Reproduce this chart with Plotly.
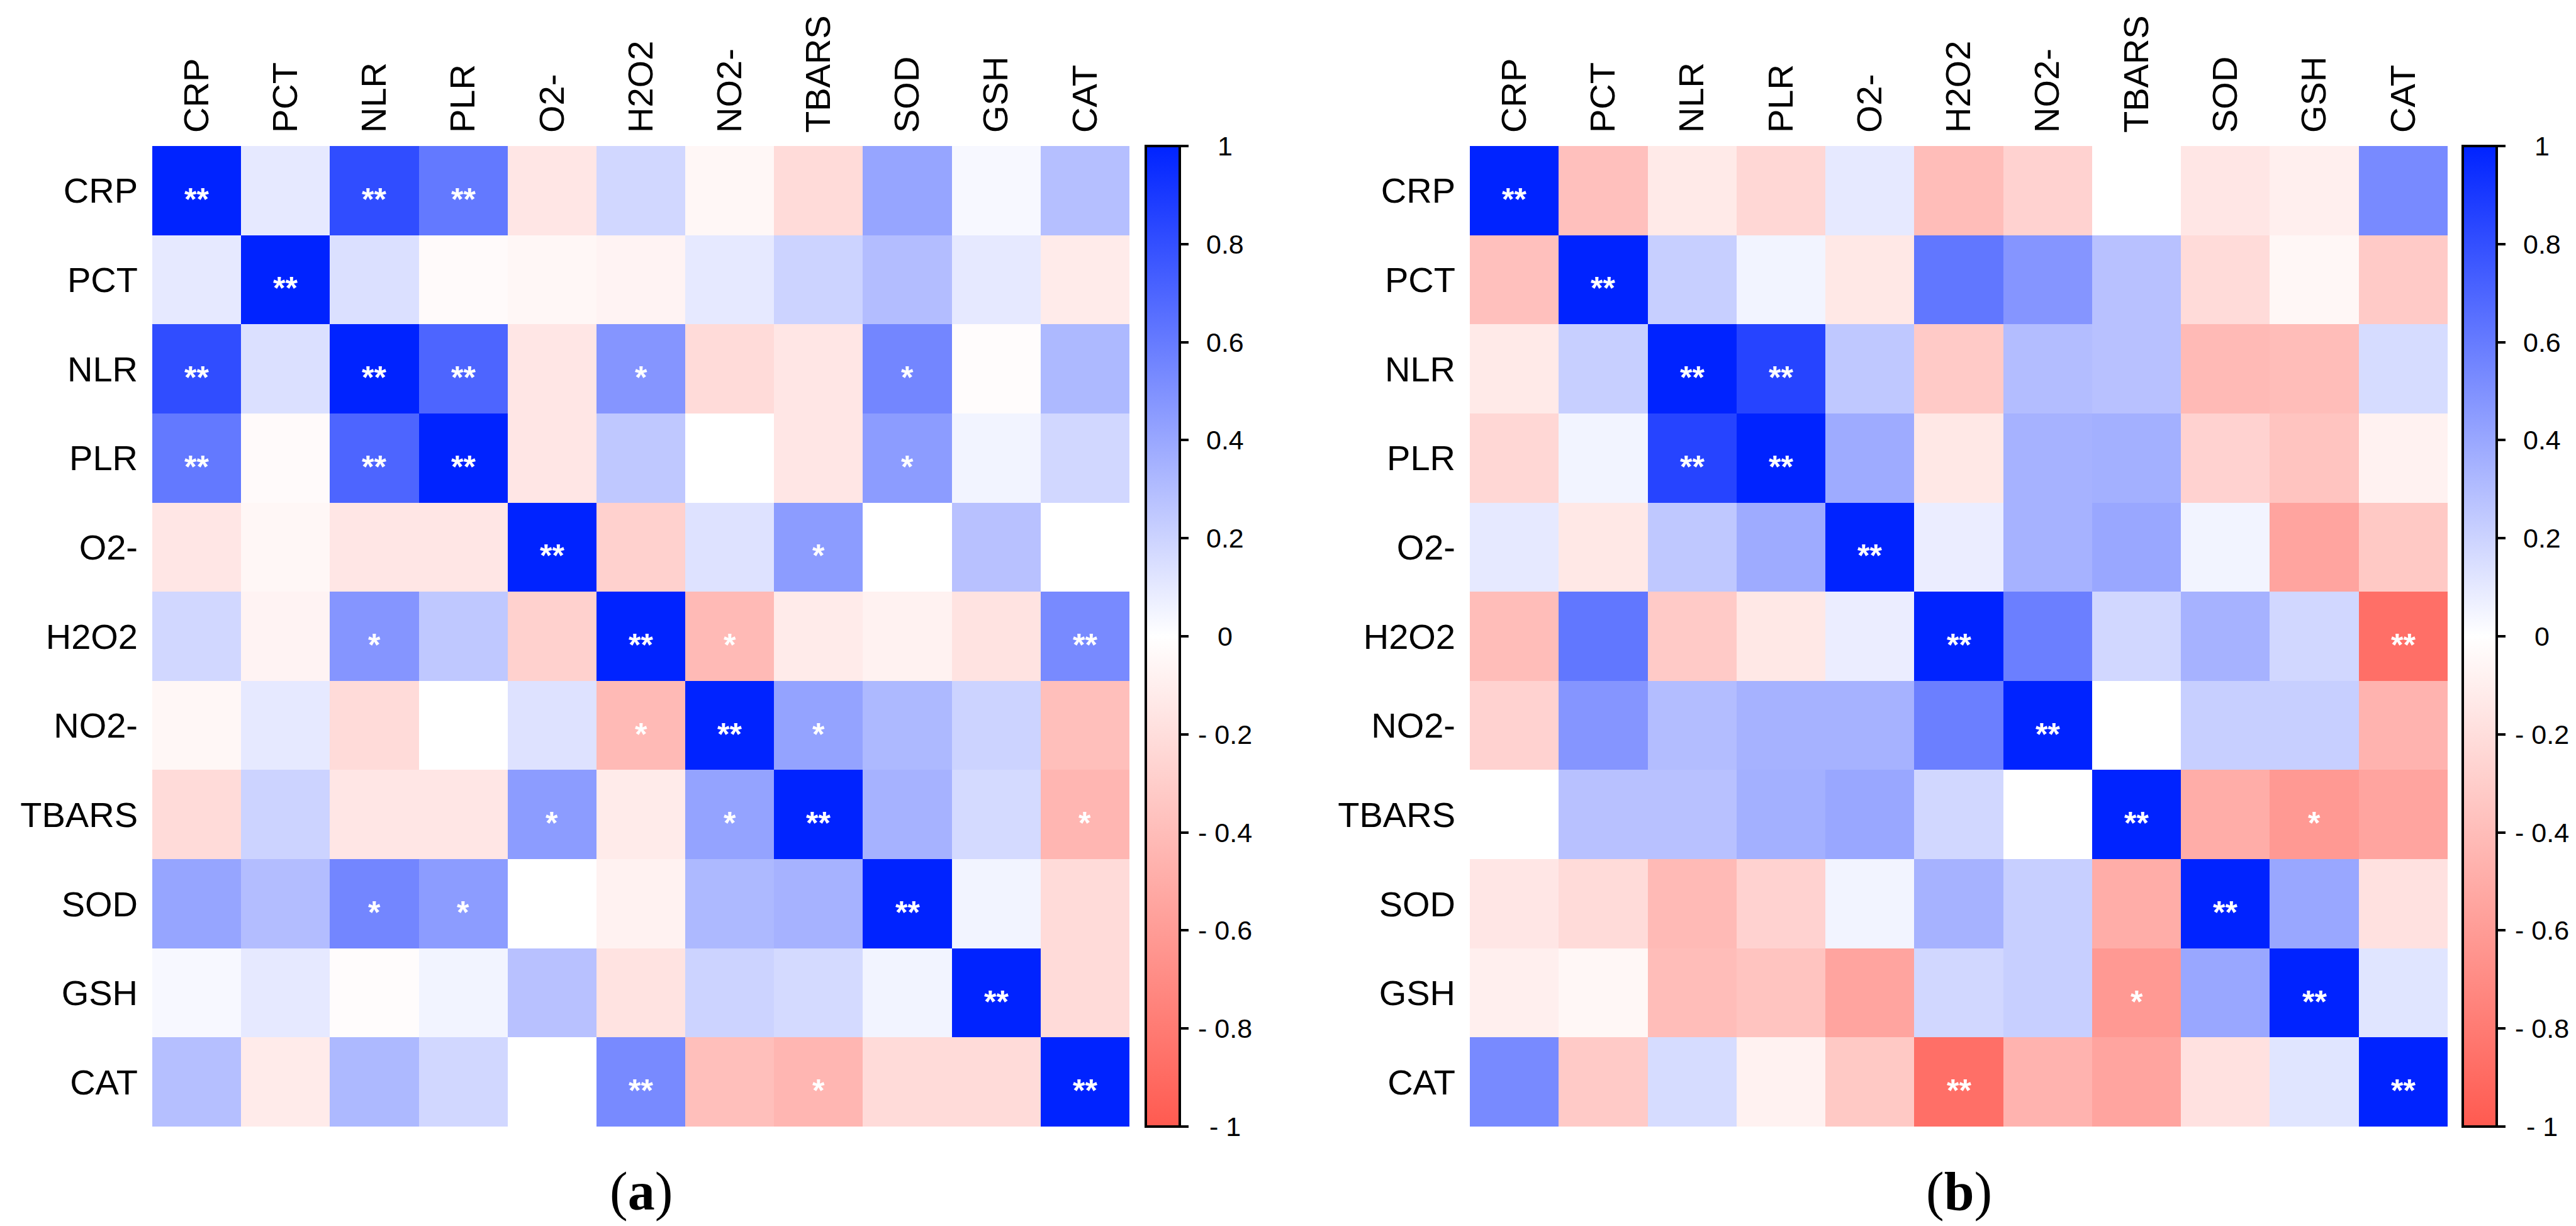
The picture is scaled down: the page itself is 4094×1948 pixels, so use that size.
import plotly.graph_objects as go

W, H = 4094, 1948

labels = ["CRP", "PCT", "NLR", "PLR", "O2-", "H2O2", "NO2-", "TBARS", "SOD", "GSH", "CAT"]

corr_a = [
    [1.00, 0.10, 0.81, 0.61, -0.15, 0.18, -0.05, -0.22, 0.41, 0.03, 0.29],
    [0.10, 1.00, 0.14, -0.03, -0.05, -0.07, 0.10, 0.20, 0.30, 0.10, -0.12],
    [0.81, 0.14, 1.00, 0.70, -0.15, 0.48, -0.22, -0.15, 0.55, -0.02, 0.32],
    [0.61, -0.03, 0.70, 1.00, -0.15, 0.25, 0.00, -0.15, 0.45, 0.05, 0.18],
    [-0.15, -0.05, -0.15, -0.15, 1.00, -0.28, 0.13, 0.45, 0.00, 0.28, 0.00],
    [0.18, -0.07, 0.48, 0.25, -0.28, 1.00, -0.42, -0.12, -0.08, -0.17, 0.53],
    [-0.05, 0.10, -0.22, 0.00, 0.13, -0.42, 1.00, 0.42, 0.32, 0.20, -0.39],
    [-0.22, 0.20, -0.15, -0.15, 0.45, -0.12, 0.42, 1.00, 0.35, 0.17, -0.44],
    [0.41, 0.30, 0.55, 0.45, 0.00, -0.08, 0.32, 0.35, 1.00, 0.05, -0.22],
    [0.03, 0.10, -0.02, 0.05, 0.28, -0.17, 0.20, 0.17, 0.05, 1.00, -0.22],
    [0.29, -0.12, 0.32, 0.18, 0.00, 0.53, -0.39, -0.44, -0.22, -0.22, 1.00],
]

stars_a = [
    ["**", "", "**", "**", "", "", "", "", "", "", ""],
    ["", "**", "", "", "", "", "", "", "", "", ""],
    ["**", "", "**", "**", "", "*", "", "", "*", "", ""],
    ["**", "", "**", "**", "", "", "", "", "*", "", ""],
    ["", "", "", "", "**", "", "", "*", "", "", ""],
    ["", "", "*", "", "", "**", "*", "", "", "", "**"],
    ["", "", "", "", "", "*", "**", "*", "", "", ""],
    ["", "", "", "", "*", "", "*", "**", "", "", "*"],
    ["", "", "*", "*", "", "", "", "", "**", "", ""],
    ["", "", "", "", "", "", "", "", "", "**", ""],
    ["", "", "", "", "", "**", "", "*", "", "", "**"],
]

corr_b = [
    [1.00, -0.38, -0.13, -0.24, 0.10, -0.40, -0.27, 0.00, -0.15, -0.10, 0.53],
    [-0.38, 1.00, 0.22, 0.05, -0.14, 0.62, 0.48, 0.28, -0.22, -0.05, -0.32],
    [-0.13, 0.22, 1.00, 0.85, 0.25, -0.32, 0.30, 0.28, -0.42, -0.40, 0.16],
    [-0.24, 0.05, 0.85, 1.00, 0.38, -0.14, 0.35, 0.36, -0.27, -0.36, -0.08],
    [0.10, -0.14, 0.25, 0.38, 1.00, 0.08, 0.35, 0.40, 0.05, -0.55, -0.33],
    [-0.40, 0.62, -0.32, -0.14, 0.08, 1.00, 0.58, 0.18, 0.35, 0.18, -0.87],
    [-0.27, 0.48, 0.30, 0.35, 0.35, 0.58, 1.00, 0.00, 0.22, 0.22, -0.46],
    [0.00, 0.28, 0.28, 0.36, 0.40, 0.18, 0.00, 1.00, -0.50, -0.62, -0.55],
    [-0.15, -0.22, -0.42, -0.27, 0.05, 0.35, 0.22, -0.50, 1.00, 0.40, -0.18],
    [-0.10, -0.05, -0.40, -0.36, -0.55, 0.18, 0.22, -0.62, 0.40, 1.00, 0.12],
    [0.53, -0.32, 0.16, -0.08, -0.33, -0.87, -0.46, -0.55, -0.18, 0.12, 1.00],
]

stars_b = [
    ["**", "", "", "", "", "", "", "", "", "", ""],
    ["", "**", "", "", "", "", "", "", "", "", ""],
    ["", "", "**", "**", "", "", "", "", "", "", ""],
    ["", "", "**", "**", "", "", "", "", "", "", ""],
    ["", "", "", "", "**", "", "", "", "", "", ""],
    ["", "", "", "", "", "**", "", "", "", "", "**"],
    ["", "", "", "", "", "", "**", "", "", "", ""],
    ["", "", "", "", "", "", "", "**", "", "*", ""],
    ["", "", "", "", "", "", "", "", "**", "", ""],
    ["", "", "", "", "", "", "", "*", "", "**", ""],
    ["", "", "", "", "", "**", "", "", "", "", "**"],
]

cbar_ticks = [1, 0.8, 0.6, 0.4, 0.2, 0, -0.2, -0.4, -0.6, -0.8, -1]
cbar_ticktext = ["1", "0.8", "0.6", "0.4", "0.2", "0", "- 0.2", "- 0.4", "- 0.6", "- 0.8", "- 1"]
captions = ["(<b>a</b>)", "(<b>b</b>)"]

FONT = "Arial, Liberation Sans, sans-serif"
SERIF = "Times New Roman, Liberation Serif, serif"
colorscale = [[0.0, "rgb(255,90,80)"], [0.5, "rgb(255,255,255)"], [1.0, "rgb(0,35,255)"]]

ydom = [1 - 1782 / H, 1 - 224 / H]
xdoms = [[234 / W, 1787 / W], [2328 / W, 3882 / W]]
cbar_x = [1813 / W, 3906 / W]
label_x = [1939 / W, 4032 / W]

fig = go.Figure()
panels = [(corr_a, stars_a), (corr_b, stars_b)]
annotations = []
for k, (z, st) in enumerate(panels):
    xa = "x" if k == 0 else "x2"
    ya = "y" if k == 0 else "y2"
    fig.add_trace(go.Heatmap(
        z=z, x=labels, y=labels, xaxis=xa, yaxis=ya,
        zmin=-1, zmax=1, colorscale=colorscale, hoverinfo="skip",
        colorbar=dict(
            x=cbar_x[k], xanchor="left", xref="paper", xpad=0,
            y=(ydom[0] + ydom[1]) / 2, yanchor="middle", ypad=0,
            len=1558, lenmode="pixels", thickness=54,
            outlinewidth=4, outlinecolor="black",
            tickmode="array", tickvals=cbar_ticks,
            ticks="outside", ticklen=12, tickwidth=4, tickcolor="black",
            showticklabels=False,
        ),
    ))
    for i, row in enumerate(st):
        for j, s in enumerate(row):
            if s:
                annotations.append(dict(
                    x=labels[j], y=labels[i], xref=xa, yref=ya,
                    text="<b>" + s + "</b>", showarrow=False,
                    font=dict(family=FONT, size=50, color="white"),
                    yshift=-14,
                ))
    for v, t in zip(cbar_ticks, cbar_ticktext):
        annotations.append(dict(
            x=label_x[k], y=v, xref="paper", yref="y3",
            text=t, showarrow=False, xanchor="center", yanchor="middle",
            font=dict(family=FONT, size=43, color="black"),
        ))
    annotations.append(dict(
        x=0.5, y=1 - 1885 / H, xref=(xa + " domain"), yref="paper",
        text=captions[k], showarrow=False, xanchor="center", yanchor="middle",
        font=dict(family=SERIF, size=86, color="black"),
    ))

axis_common = dict(showgrid=False, zeroline=False, showline=False, ticks="",
                   tickfont=dict(family=FONT, size=56, color="black"))

fig.update_layout(
    width=W, height=H, margin=dict(l=0, r=0, t=0, b=0),
    paper_bgcolor="white", plot_bgcolor="rgba(0,0,0,0)",
    xaxis=dict(domain=xdoms[0], side="top", tickangle=-90, anchor="y",
               ticklabelstandoff=20, **axis_common),
    yaxis=dict(domain=ydom, autorange="reversed", anchor="x",
               ticklabelstandoff=22, **axis_common),
    xaxis2=dict(domain=xdoms[1], side="top", tickangle=-90, anchor="y2",
                ticklabelstandoff=20, **axis_common),
    yaxis2=dict(domain=ydom, autorange="reversed", anchor="x2",
                ticklabelstandoff=22, **axis_common),
    yaxis3=dict(range=[-1, 1], overlaying="y", anchor="x",
                visible=False, showgrid=False, zeroline=False),
    annotations=annotations,
    showlegend=False,
)

fig.write_html("out.html")
